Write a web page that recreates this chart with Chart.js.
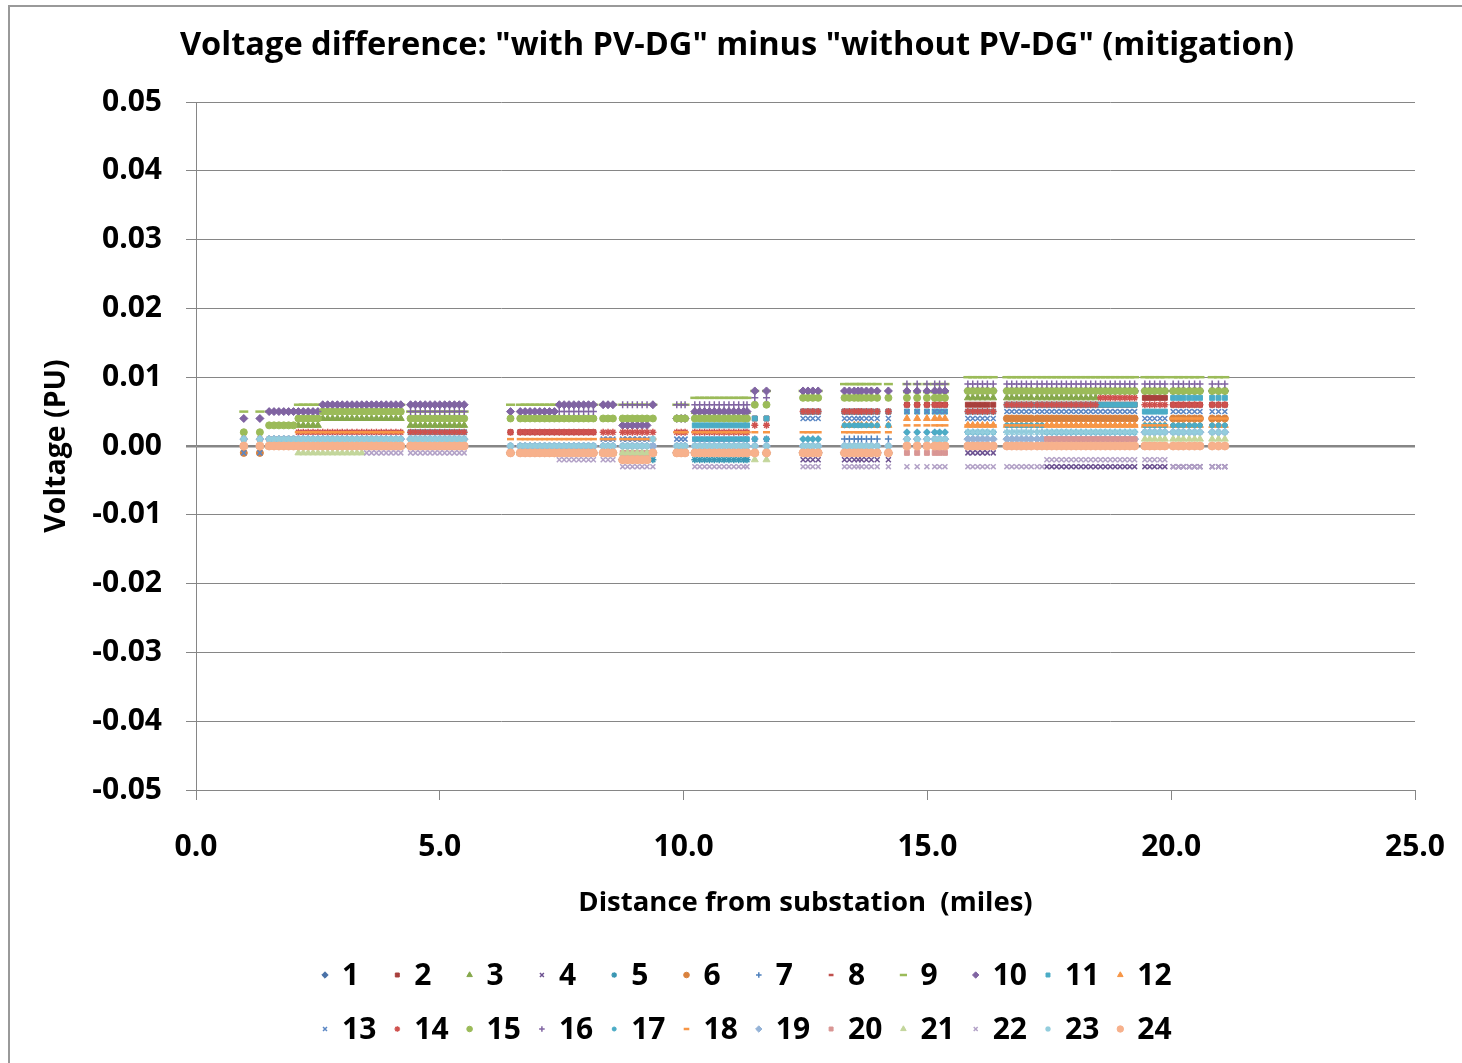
<!DOCTYPE html>
<html>
<head>
<meta charset="utf-8">
<script src="https://cdn.jsdelivr.net/npm/chart.js@4.4.1/dist/chart.umd.min.js"></script>
<style>
  html, body { margin: 0; padding: 0; background: #fff; }
  #wrap { width: 1462px; height: 1063px; }
</style>
</head>
<body>
<div id="wrap"><canvas id="voltChart" width="1462" height="1063"></canvas></div>
<script>
// Feeder nodes (miles from substation), grouped by feeder section
const nodeMiles = [
  [0.98, 1.31],
  [1.5, 1.6, 1.7, 1.8, 1.9, 2.0],
  [2.1, 2.2, 2.3, 2.4, 2.5],
  [2.6, 2.7, 2.8, 2.9, 3.0, 3.1, 3.2, 3.3, 3.4],
  [3.5, 3.6, 3.7, 3.8, 3.9, 4.0, 4.1, 4.2],
  [4.4, 4.5, 4.6, 4.7, 4.8, 4.9, 5.0, 5.1, 5.2, 5.3, 5.4, 5.5],
  [6.45, 6.65, 6.75, 6.85, 6.95, 7.05, 7.15, 7.25, 7.35],
  [7.45, 7.55, 7.65, 7.75, 7.85, 7.95, 8.05, 8.15],
  [8.35, 8.45, 8.55],
  [8.75, 8.85, 8.95, 9.05, 9.15, 9.25],
  [9.37],
  [9.86, 9.95, 10.03],
  [10.23, 10.33, 10.43, 10.53, 10.63, 10.73, 10.83, 10.93, 11.03, 11.13, 11.23, 11.3],
  [11.46, 11.7],
  [12.45, 12.55, 12.65, 12.76],
  [13.3, 13.4, 13.5, 13.58, 13.65, 13.75, 13.85, 13.97, 14.2],
  [14.58, 14.79, 14.99, 15.15, 15.25, 15.36],
  [15.83, 15.93, 16.03, 16.13, 16.23, 16.35],
  [16.63, 16.73, 16.83, 16.93, 17.03, 17.13, 17.25, 17.35],
  [17.45, 17.55, 17.65, 17.75, 17.85, 17.95, 18.05, 18.15, 18.25, 18.35, 18.45],
  [18.55, 18.65, 18.75, 18.85, 18.95, 19.05, 19.15, 19.25],
  [19.46, 19.56, 19.66, 19.77, 19.87],
  [20.04, 20.15, 20.25, 20.37, 20.48, 20.59, 20.84, 20.97, 21.1]
];

// Voltage difference (pu) per hour, one value per feeder section above
const hr1  = [0, 0, 0, 0, 0, 0, -0.001, -0.001, -0.001, -0.002, -0.001, -0.001, -0.001, -0.001, -0.001, -0.001, 0, 0, 0, 0, 0, 0, 0];
const hr2  = [0, 0, 0, 0, 0, 0, 0.002, 0.002, -0.001, -0.002, -0.001, -0.001, -0.001, 0.004, 0.005, 0.005, 0.006, 0.006, 0.006, 0.006, 0.006, 0.007, 0.006];
const hr3  = [0, 0, 0.003, 0.004, 0.004, 0.003, -0.001, -0.001, -0.001, -0.002, -0.001, -0.001, 0.005, -0.001, -0.001, -0.001, 0.008, 0.007, 0.007, 0.007, 0.008, 0, 0];
const hr4  = [0, 0, 0, 0, 0, 0, -0.001, -0.001, -0.001, -0.002, -0.001, -0.001, -0.001, -0.001, -0.002, -0.002, 0, -0.001, 0, -0.003, -0.003, -0.003, -0.003];
const hr5  = [0, 0, 0, 0, 0, 0, -0.001, -0.001, -0.001, -0.002, -0.002, -0.001, -0.002, -0.001, -0.001, -0.001, 0, 0, 0, 0, 0, 0, 0];
const hr6  = [-0.001, 0, 0, 0, 0, 0, -0.001, -0.001, -0.001, -0.002, -0.001, -0.001, -0.001, -0.001, -0.001, -0.001, 0, 0, 0.004, 0.004, 0.004, 0, 0.004];
const hr7  = [0, 0, 0, 0, 0, 0, -0.001, -0.001, -0.001, -0.002, -0.001, -0.001, -0.001, 0.001, 0.001, 0.001, 0.002, 0.002, 0.002, 0.002, 0.002, 0.002, 0.002];
const hr8  = [0, 0, 0, 0, 0, 0, -0.001, -0.001, -0.001, -0.002, -0.001, -0.001, -0.001, -0.001, -0.001, -0.001, 0, 0, 0, 0, 0, 0, 0.003];
const hr9  = [0.005, 0.005, 0.006, 0.006, 0.006, 0.005, 0.006, 0.006, 0.006, 0.006, 0.006, 0.006, 0.007, 0.008, 0.008, 0.009, 0.009, 0.010, 0.010, 0.010, 0.010, 0.010, 0.010];
const hr10 = [0.004, 0.005, 0.005, 0.006, 0.006, 0.006, 0.005, 0.006, 0.006, 0.003, 0.006, 0.004, 0.005, 0.008, 0.008, 0.008, 0.008, 0.008, 0.008, 0.008, 0.008, 0.008, 0.008];
const hr11 = [0, 0, 0, 0, 0, 0.002, -0.001, -0.001, -0.001, -0.002, -0.001, -0.001, 0.003, 0.004, 0.005, 0.005, 0.005, 0.005, 0.006, 0.006, 0.006, 0.005, 0.007];
const hr12 = [0, 0, 0, 0, 0, 0, -0.001, -0.001, -0.001, -0.002, -0.001, -0.001, -0.001, -0.001, -0.001, 0.003, 0.004, 0.003, 0.003, 0.003, 0.003, 0.003, 0.003];
const hr13 = [-0.001, 0, 0, 0, 0, 0, 0, 0, 0.001, 0.001, 0, 0.001, 0.001, 0.001, 0.004, 0.004, 0.005, 0.004, 0.005, 0.005, 0.005, 0.004, 0.005];
const hr14 = [0.001, 0.001, 0.002, 0.002, 0.002, 0.002, 0.002, 0.002, 0.002, 0.002, 0.002, 0.002, 0.002, 0.003, 0.005, 0.005, 0.006, 0.005, 0.006, 0.006, 0.007, 0.006, 0.006];
const hr15 = [0.002, 0.003, 0.004, 0.005, 0.005, 0.004, 0.004, 0.004, 0.004, 0.004, 0.004, 0.004, 0.004, 0.006, 0.007, 0.007, 0.007, 0.008, 0.008, 0.008, 0.008, 0.008, 0.008];
const hr16 = [0.004, 0.005, 0.005, 0.006, 0.006, 0.005, 0.005, 0.005, 0.006, 0.006, 0.006, 0.006, 0.006, 0.007, 0.008, 0.008, 0.009, 0.009, 0.009, 0.009, 0.009, 0.009, 0.009];
const hr17 = [0.001, 0.001, 0.001, 0.001, 0.001, 0.001, 0, 0, 0, 0, 0.001, 0, 0.001, 0.001, 0.001, 0.003, 0.002, 0.002, 0.003, 0.002, 0.002, 0.003, 0.003];
const hr18 = [0.001, 0.001, 0.002, 0.002, 0.002, 0.001, 0.001, 0.001, 0.001, 0.001, 0.001, 0.002, 0.002, 0.002, 0.002, 0.002, 0.003, 0.003, 0.003, 0.003, 0.003, 0.003, 0.004];
const hr19 = [0.001, 0.001, 0.001, 0.001, 0.001, 0.001, 0, 0, 0, 0, 0, 0, 0, 0, 0, 0, 0.001, 0.001, 0.001, 0.001, 0.001, 0.002, 0.002];
const hr20 = [0, 0, 0, 0, 0, 0, -0.001, -0.001, -0.001, -0.001, -0.001, -0.001, -0.001, -0.001, -0.001, -0.001, -0.001, 0, 0, 0.001, 0.001, 0, 0];
const hr21 = [0, 0, -0.001, -0.001, 0, 0, -0.001, -0.001, -0.001, -0.001, -0.001, -0.001, -0.001, -0.002, -0.001, -0.001, 0, 0, 0, 0, 0, 0.001, 0.001];
const hr22 = [0, 0, 0, 0, -0.001, -0.001, -0.001, -0.002, -0.002, -0.003, -0.003, -0.001, -0.003, -0.001, -0.003, -0.003, -0.003, -0.003, -0.003, -0.002, -0.002, -0.002, -0.003];
const hr23 = [0.001, 0.001, 0.001, 0.001, 0.001, 0.001, 0, 0, 0, 0, 0.001, 0, 0, 0, 0, 0, 0.001, 0.002, 0.002, 0.002, 0.002, 0.002, 0.002];
const hr24 = [0, 0, 0, 0, 0, 0, -0.001, -0.001, -0.001, -0.002, -0.001, -0.001, -0.001, -0.001, -0.001, -0.001, 0, 0, 0, 0, 0, 0, 0];

const hourSeries = [hr1, hr2, hr3, hr4, hr5, hr6, hr7, hr8, hr9, hr10, hr11, hr12,
                    hr13, hr14, hr15, hr16, hr17, hr18, hr19, hr20, hr21, hr22, hr23, hr24];
const hourLabels = ['1', '2', '3', '4', '5', '6', '7', '8', '9', '10', '11', '12',
                    '13', '14', '15', '16', '17', '18', '19', '20', '21', '22', '23', '24'];

const chartTitle = 'Voltage difference: "with PV-DG" minus "without PV-DG" (mitigation)';
const xTitle = 'Distance from substation  (miles)';
const yTitle = 'Voltage (PU)';

// marker look, Excel-style cycle
const markerColors = ['#4a72a8', '#a8403d', '#85a84b', '#6d5291', '#3a97b3', '#d9823e',
                      '#4f81bd', '#c0504d', '#9bbb59', '#8064a2', '#4bacc6', '#f79646',
                      '#5b87c4', '#cf514e', '#9bbb59', '#8064a2', '#4bacc6', '#f79646',
                      '#95b3d7', '#d99694', '#c3d69b', '#b3a2c7', '#93cddd', '#f7b18c'];
const markerShapes = ['rectRot', 'rect', 'triangle', 'crossRot', 'star', 'circle',
                      'cross', 'line', 'line', 'rectRot', 'rect', 'triangle',
                      'crossRot', 'star', 'circle', 'cross', 'circle', 'line',
                      'rectRot', 'rect', 'triangle', 'crossRot', 'star', 'circle'];
const markerSizes = [4, 3.5, 4, 3.5, 3.5, 3.5, 3.5, 3, 4.5, 4, 3.5, 4,
                     3.5, 3.5, 3.5, 3.5, 2.5, 3.5, 4, 3.5, 4, 3.5, 3.5, 4];

function strokeWidth(shape) {
  if (shape === 'line') return 2.5;
  if (shape === 'cross' || shape === 'crossRot' || shape === 'star') return 1.5;
  return 1;
}

const datasets = hourSeries.map((vals, k) => ({
  label: hourLabels[k],
  data: nodeMiles.flatMap((sec, i) => sec.map(m => ({ x: m, y: vals[i] }))),
  showLine: false,
  order: hourSeries.length - k,   // later hours painted on top
  pointStyle: markerShapes[k],
  pointRadius: markerSizes[k],
  pointHoverRadius: markerSizes[k],
  pointBorderWidth: strokeWidth(markerShapes[k]),
  pointBackgroundColor: markerColors[k],
  pointBorderColor: markerColors[k]
}));

const axisGray = '#868686';
const labelFont = { family: 'Open Sans', weight: 'bold', size: 30 };

const chartDecor = {
  id: 'chartDecor',
  beforeDraw(chart) {
    const ctx = chart.ctx;
    ctx.save();
    ctx.fillStyle = '#ffffff';
    ctx.fillRect(0, 0, chart.width, chart.height);
    ctx.strokeStyle = '#999999';
    ctx.lineWidth = 2;
    ctx.beginPath();
    ctx.moveTo(9, chart.height);
    ctx.lineTo(9, 6);
    ctx.lineTo(chart.width, 6);
    ctx.stroke();
    ctx.restore();
  },
  afterDraw(chart) {
    const ctx = chart.ctx, area = chart.chartArea;
    ctx.save();
    ctx.fillStyle = '#000000';
    ctx.textAlign = 'center';
    ctx.textBaseline = 'middle';
    ctx.font = 'bold 32.6px "Open Sans"';
    ctx.fillText(chartTitle, 737, 46);
    ctx.font = 'bold 27.5px "Open Sans"';
    ctx.fillText(xTitle, (area.left + area.right) / 2, 903);
    ctx.save();
    ctx.translate(57, (area.top + area.bottom) / 2);
    ctx.rotate(-Math.PI / 2);
    ctx.font = 'bold 28.5px "Open Sans"';
    ctx.fillText(yTitle, 0, 0);
    ctx.restore();

    // two-row legend, 12 hours per row
    ctx.textAlign = 'left';
    ctx.font = 'bold 30px "Open Sans"';
    const pitch = 72.3;
    hourLabels.forEach((lab, k) => {
      const col = k % 12, row = Math.floor(k / 12);
      const mx = 325 + col * pitch;
      const my = row === 0 ? 975 : 1029;
      ctx.fillStyle = markerColors[k];
      ctx.strokeStyle = markerColors[k];
      ctx.lineWidth = strokeWidth(markerShapes[k]);
      Chart.helpers.drawPoint(ctx, {
        pointStyle: markerShapes[k],
        radius: markerSizes[k] * 0.8,
        borderWidth: strokeWidth(markerShapes[k]),
        rotation: 0
      }, mx, my);
      ctx.fillStyle = '#000000';
      ctx.fillText(lab, mx + 17, my + 1);
    });
    ctx.restore();
  }
};

new Chart(document.getElementById('voltChart'), {
  type: 'scatter',
  data: { datasets: datasets },
  plugins: [chartDecor],
  options: {
    responsive: false,
    animation: false,
    devicePixelRatio: 1,
    layout: { padding: { left: 0, right: 47, top: 102, bottom: 0 } },
    plugins: {
      legend: { display: false },
      title: { display: false },
      tooltip: { enabled: false }
    },
    scales: {
      x: {
        type: 'linear',
        min: 0,
        max: 25,
        afterFit: s => { s.height = 273; s.paddingLeft = 0; s.paddingRight = 0; },
        ticks: {
          stepSize: 5,
          color: '#000000',
          font: labelFont,
          padding: 29,
          maxRotation: 0,
          callback: v => v.toFixed(1)
        },
        grid: { drawOnChartArea: false, drawTicks: true, tickLength: 10, color: axisGray },
        border: { color: axisGray, width: 1 }
      },
      y: {
        min: -0.05,
        max: 0.05,
        afterFit: s => { s.width = 196; s.paddingTop = 0; s.paddingBottom = 0; },
        ticks: {
          stepSize: 0.01,
          color: '#000000',
          font: labelFont,
          padding: 24,
          callback: v => v.toFixed(2)
        },
        grid: {
          color: axisGray,
          tickLength: 10,
          lineWidth: c => (c.tick && Math.abs(c.tick.value) < 1e-9 ? 2.5 : 1)
        },
        border: { color: axisGray, width: 1 }
      }
    }
  }
});
</script>
</body>
</html>
